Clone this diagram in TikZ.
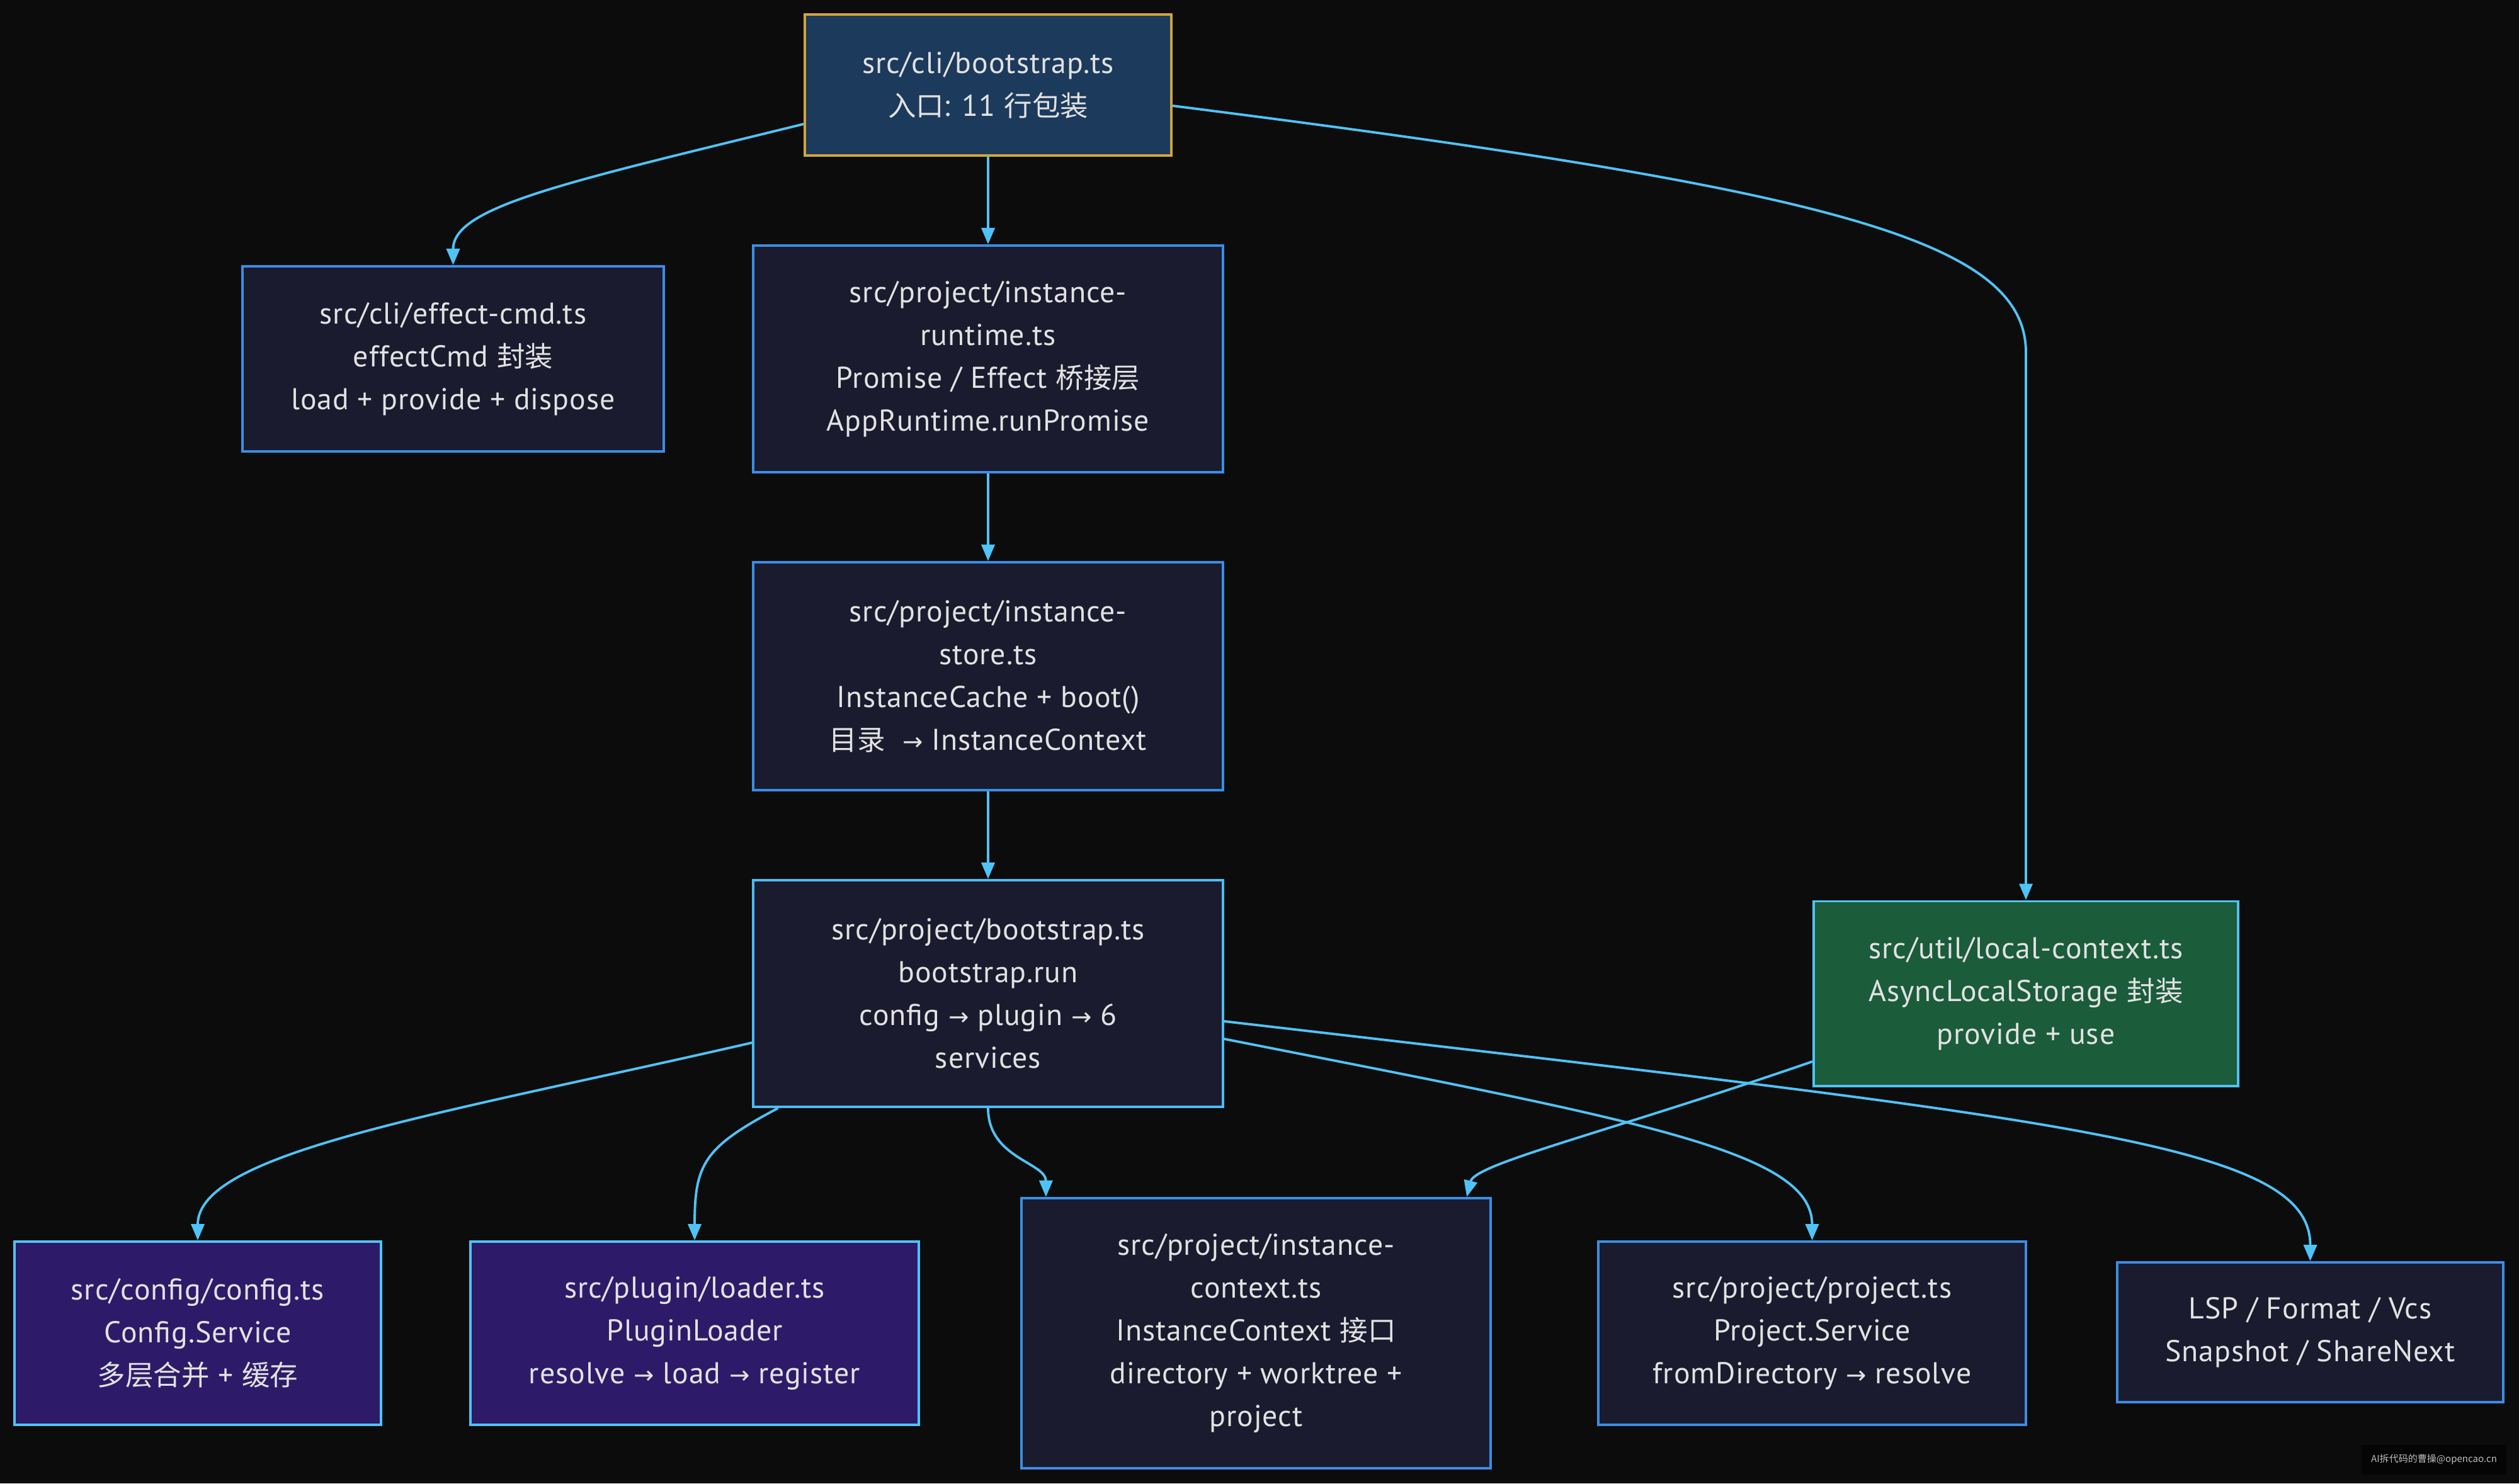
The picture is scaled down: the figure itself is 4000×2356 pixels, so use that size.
\documentclass[tikz,border=0pt]{standalone}
\usepackage{fontspec}
\setmainfont{PT Sans}[LetterSpace=2]
\newfontfamily\cjk{Noto Sans CJK SC}[Scale=0.93]
\newfontfamily\symf{DejaVu Sans}
\usetikzlibrary{arrows.meta,calc}
\newcommand{\rarr}{{\symf\fontsize{11}{11}\selectfont →}}
\definecolor{bg}{HTML}{0C0C0C}
\definecolor{nodefill}{HTML}{1A1B2E}
\definecolor{nodeborder}{HTML}{3A8EE6}
\definecolor{textc}{HTML}{E2E2E2}
\definecolor{edgec}{HTML}{4FC3F7}
\definecolor{topfill}{HTML}{1C3A5C}
\definecolor{topborder}{HTML}{D4A537}
\definecolor{greenfill}{HTML}{1B5C3B}
\definecolor{purplefill}{HTML}{2D1B69}
\definecolor{wmfill}{HTML}{050505}
\definecolor{wmtext}{HTML}{BDBDBD}
\tikzset{
  box/.style={draw=nodeborder, fill=nodefill, line width=1.1pt, text=textc,
    align=center, inner sep=0pt, font=\fontsize{13.6}{19.3}\selectfont},
  topbox/.style={box, draw=topborder, fill=topfill},
  greenbox/.style={box, draw=edgec, fill=greenfill},
  purplebox/.style={box, draw=edgec, fill=purplefill},
  lightbox/.style={box, draw=edgec!85!nodeborder},
  conn/.style={draw=edgec, line width=1.1pt, -{Triangle[length=0.26cm,width=0.21cm]}},
}
\begin{document}
\begin{tikzpicture}[x=0.01cm,y=-0.01cm]
\fill[bg] (0,0) rectangle (4000,2356);
\useasboundingbox (0,0) rectangle (4000,2356);

\node[topbox, minimum width=5.82cm, minimum height=2.24cm] (boot) at (1569,135)
  {src/cli/bootstrap.ts\\{\cjk 入口}: 11 {\cjk 行包装}};
\node[box, minimum width=6.69cm, minimum height=2.94cm] (eff) at (719.5,570)
  {src/cli/effect-cmd.ts\\effectCmd {\cjk 封装}\\load + provide + dispose};
\node[box, minimum width=7.45cm, minimum height=3.6cm] (rt) at (1569,570)
  {src/project/instance-\\runtime.ts\\Promise / Effect {\cjk 桥接层}\\AppRuntime.runPromise};
\node[box, minimum width=7.45cm, minimum height=3.62cm] (store) at (1569,1074)
  {src/project/instance-\\store.ts\\InstanceCache + boot()\\{\cjk 目录}\ \ \rarr\ InstanceContext};
\node[lightbox, minimum width=7.45cm, minimum height=3.6cm] (bs) at (1569,1578)
  {src/project/bootstrap.ts\\bootstrap.run\\config \rarr\ plugin \rarr\ 6\\services};
\node[greenbox, minimum width=6.74cm, minimum height=2.93cm] (loc) at (3217,1578)
  {src/util/local-context.ts\\AsyncLocalStorage {\cjk 封装}\\provide + use};
\node[purplebox, minimum width=5.82cm, minimum height=2.91cm] (cfg) at (314,2117.5)
  {src/config/config.ts\\Config.Service\\{\cjk 多层合并} + {\cjk 缓存}};
\node[purplebox, minimum width=7.12cm, minimum height=2.91cm] (ldr) at (1103,2117.5)
  {src/plugin/loader.ts\\PluginLoader\\resolve \rarr\ load \rarr\ register};
\node[box, minimum width=7.45cm, minimum height=4.29cm] (ctx) at (1994.5,2117.5)
  {src/project/instance-\\context.ts\\InstanceContext {\cjk 接口}\\directory + worktree +\\project};
\node[box, minimum width=6.79cm, minimum height=2.91cm] (prj) at (2877.5,2117.5)
  {src/project/project.ts\\Project.Service\\fromDirectory \rarr\ resolve};
\node[box, minimum width=6.13cm, minimum height=2.22cm] (lsp) at (3668.5,2116)
  {LSP / Format / Vcs\\Snapshot / ShareNext};

\node[fill=wmfill, text=wmtext, inner sep=0pt, minimum width=2.3cm, minimum height=0.47cm,
  font=\cjk\fontsize{4.6}{5}\selectfont] (wm) at (3865,2318) {AI拆代码的曹操@opencao.cn};

% connectors
\draw[conn] ($(boot.west)+(0,62)$) .. controls +(-378,93) and +(0,-93) .. (eff.north);
\draw[conn] (boot.south) -- (rt.north);
\draw[conn] ($(boot.east)+(0,33)$) .. controls +(1040,132) and +(0,-180) .. (loc.north |- 0,560) -- (loc.north);
\draw[conn] (rt.south) -- (store.north);
\draw[conn] (store.south) -- (bs.north);
\draw[conn] ($(bs.west)+(0,78)$) .. controls +(-496,114) and +(0,-140) .. (cfg.north);
\draw[conn] ($(bs.south west)+(41,0)$) .. controls +(-117,62) and +(0,-122) .. (ldr.north);
\draw[conn] (bs.south) .. controls +(0,80) and +(0,-55) .. ($(ctx.north west)+(41,0)$);
\draw[conn] ($(bs.east)+(0,72)$) .. controls +(660,130) and +(0,-142) .. (prj.north);
\draw[conn] ($(bs.east)+(0,44)$) .. controls +(1360,158) and +(0,-185) .. (lsp.north);
\draw[conn] ($(loc.west)+(0,108)$) .. controls +(-330,114) and +(13,-53) .. ($(ctx.north east)+(-40,0)$);
\end{tikzpicture}
\end{document}
